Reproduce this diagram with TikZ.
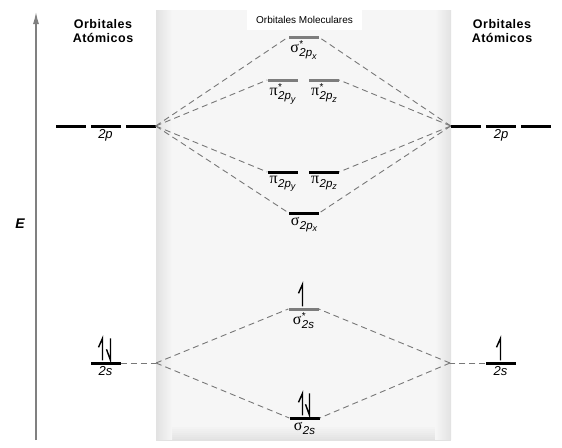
\documentclass[tikz,border=0pt]{standalone}
\usepackage{amsmath}
\usepackage{fontspec}
\setmainfont{Liberation Sans}
\newfontfamily\grk{Liberation Serif}
\usetikzlibrary{positioning,calc}
\usetikzlibrary{arrows.meta}
\definecolor{LvlGray}{RGB}{125,125,125}
\definecolor{DashGray}{RGB}{120,120,120}
\definecolor{BoxGray}{RGB}{246,246,246}
\definecolor{EdgeGray}{RGB}{226,226,226}
\tikzset{lvl/.style={rectangle,fill=black,inner sep=0pt,minimum width=30pt,minimum height=3pt}, alvl/.style={lvl,fill=LvlGray}, corr/.style={draw=DashGray,dash pattern=on 6pt off 4pt,line width=0.9pt}, spin/.style={draw=black,line width=1.4pt}, olab/.style={font=\fontsize{13}{15}\selectfont,inner sep=1pt}, head/.style={font=\bfseries\fontsize{12.5}{14.5}\selectfont\addfontfeatures{LetterSpace=4},align=center}, axis/.style={draw=gray,line width=1.3pt,-{Latex[length=12pt,width=6pt]}}}
% greek letter, subscript, sub-subscript, star
\newcommand{\ol}[4]{{\fontsize{16}{16}\selectfont\grk #1}\kern0.5pt\makebox[0pt][l]{\raisebox{5pt}{\fontsize{10}{10}\selectfont #4}}\raisebox{-4pt}{\fontsize{11.5}{11.5}\selectfont\itshape #2\raisebox{-2.5pt}{\fontsize{9}{9}\selectfont #3}}}
\newcommand{\spinup}[2]{\draw[spin] ($(#1.north)+(#2,-1)$) -- ++(0,-22) -- ++(-4,9);}
\newcommand{\spindn}[2]{\draw[spin] ($(#1.north)+(#2,-23)$) -- ++(0,22) -- ++(-4,-11);}
\begin{document}
\begin{tikzpicture}[x=1pt,y=-1pt]
\useasboundingbox (0,0) rectangle (562,447);
% shaded molecular region
\fill[BoxGray] (156,10) rectangle (451,439);
\foreach \i in {1,...,7}
  \fill[EdgeGray!\the\numexpr 14*\i\relax!BoxGray] (156,{425+2*\i}) rectangle (451,{427+2*\i});
\shade[left color=EdgeGray,right color=BoxGray] (156,10) rectangle (172,439);
\shade[left color=BoxGray,right color=EdgeGray] (435,10) rectangle (451,439);
\node[fill=white,minimum width=115pt,minimum height=20pt,inner sep=0pt,font=\fontsize{10}{12}\selectfont] (mo) at (304.5,20) {Orbitales Moleculares};
% energy axis
\draw[axis] (36,440) -- (36,12);
\node[font=\bfseries\itshape\fontsize{14}{16}\selectfont] (elab) at (20,224) {E};
\node[head] (aoL) at (103,31) {Orbitales\\Atómicos};
\node[head] (aoR) at (502,31) {Orbitales\\Atómicos};
% atomic levels
\node[lvl] (pxL) at (70.5,126) {};
\node[lvl] (pyL) at (105.5,126) {};
\node[lvl] (pzL) at (140.5,126) {};
\node[lvl] (pxR) at (466,126) {};
\node[lvl] (pyR) at (501,126) {};
\node[lvl] (pzR) at (536,126) {};
\node[lvl] (sL) at (105.5,363) {};
\node[lvl] (sR) at (500.5,363) {};
% molecular levels
\node[alvl] (sxs) at (303.5,37) {};
\node[alvl] (pys) at (282.5,80) {};
\node[alvl] (pzs) at (324,80) {};
\node[lvl] (py) at (282.5,172) {};
\node[lvl] (pz) at (324,172) {};
\node[lvl] (sx) at (304,213) {};
\node[alvl] (sss) at (303.5,309) {};
\node[lvl] (ss) at (304.5,418) {};
\coordinate (fanL) at (156,363);
\coordinate (fanR) at (450,363);
% labels
\node[olab,below=1pt of pyL] (lpL) {\textit{2p}};
\node[olab,below=1pt of pyR] (lpR) {\textit{2p}};
\node[olab,below=1pt of sL] (lsL) {\textit{2s}};
\node[olab,below=1pt of sR] (lsR) {\textit{2s}};
\node[olab,below=1pt of sxs] (lsxs) {\ol{σ}{2p}{x}{*}};
\node[olab,below=1pt of pys] (lpys) {\ol{π}{2p}{y}{*}};
\node[olab,below=1pt of pzs] (lpzs) {\ol{π}{2p}{z}{*}};
\node[olab,below=1pt of py] (lpy) {\ol{π}{2p}{y}{}};
\node[olab,below=1pt of pz] (lpz) {\ol{π}{2p}{z}{}};
\node[olab,below=1pt of sx] (lsx) {\ol{σ}{2p}{x}{}};
\node[olab,below=1pt of sss] (lsss) {\ol{σ}{2s}{}{*}};
\node[olab,below=1pt of ss] (lss) {\ol{σ}{2s}{}{}};
% correlation lines
\draw[corr] (pzL.east) -- (sxs.west);
\draw[corr] (pzL.east) -- (pys.west);
\draw[corr] (pzL.east) -- (py.west);
\draw[corr] (pzL.east) -- (sx.west);
\draw[corr] (pxR.west) -- (sxs.east);
\draw[corr] (pxR.west) -- (pzs.east);
\draw[corr] (pxR.west) -- (pz.east);
\draw[corr] (pxR.west) -- (sx.east);
\draw[corr] (sL.east) -- (fanL);
\draw[corr] (fanL) -- (sss.west);
\draw[corr] (fanL) -- (ss.west);
\draw[corr] (sR.west) -- (fanR);
\draw[corr] (fanR) -- (sss.east);
\draw[corr] (fanR) -- (ss.east);
% electrons
\spinup{sL}{-3}
\spindn{sL}{5}
\spinup{sR}{0}
\spinup{sss}{-1}
\spinup{ss}{-2}
\spindn{ss}{5}
\end{tikzpicture}
\end{document}
